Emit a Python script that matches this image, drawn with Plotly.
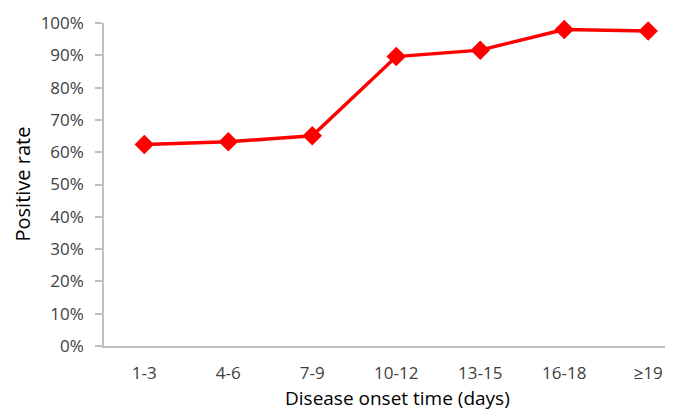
import plotly.graph_objects as go

categories = ["1-3", "4-6", "7-9", "10-12", "13-15", "16-18", "≥19"]
positive_rate = [0.624, 0.632, 0.651, 0.896, 0.916, 0.980, 0.975]
y_ticks = [0, 0.1, 0.2, 0.3, 0.4, 0.5, 0.6, 0.7, 0.8, 0.9, 1.0]

W, H = 679, 410
L, R, T, B = 104, 14, 23, 64

fig = go.Figure()
fig.add_trace(go.Scatter(
    x=list(range(len(categories))), y=positive_rate, mode="lines+markers",
    line=dict(color="#ff0000", width=3.5),
    marker=dict(symbol="diamond", size=15, color="#ff0000"),
    showlegend=False, cliponaxis=False,
))

font = dict(family="Open Sans, Liberation Sans, sans-serif", size=17, color="#404040")

fig.update_layout(
    width=W, height=H, margin=dict(l=L, r=R, t=T, b=B, autoexpand=False),
    paper_bgcolor="white", plot_bgcolor="white", font=font,
    xaxis=dict(range=[-0.48, 6.2], tickmode="array", tickvals=list(range(len(categories))),
               ticktext=categories, showgrid=False, zeroline=False, automargin=False,
               showline=True, linecolor="#bfbfbf", linewidth=1.5, ticks="",
               ticklabelstandoff=11, tickfont=font),
    yaxis=dict(range=[0, 1], tickmode="array", tickvals=y_ticks, tickformat=".0%",
               showgrid=False, zeroline=False, showline=True, linecolor="#bfbfbf",
               automargin=False,
               linewidth=1.5, ticks="outside", ticklen=7, tickcolor="#bfbfbf",
               tickwidth=1.5, ticklabelstandoff=8, tickfont=font),
)

fig.add_annotation(text="Positive rate", xref="paper", yref="paper",
                   x=(22 - L) / (W - L - R), y=0.5, textangle=-90, showarrow=False,
                   font=dict(family=font["family"], size=20, color="#000000"),
                   xanchor="center", yanchor="middle")
fig.add_annotation(text="Disease onset time (days)", xref="paper", yref="paper",
                   x=(397 - L) / (W - L - R), y=-(398 - (H - B)) / (H - T - B),
                   showarrow=False,
                   font=dict(family=font["family"], size=19, color="#000000"),
                   xanchor="center", yanchor="middle")

fig.write_html("out.html", config={"displayModeBar": False},
               post_script="document.body.style.margin='0';document.body.style.overflow='hidden';")
